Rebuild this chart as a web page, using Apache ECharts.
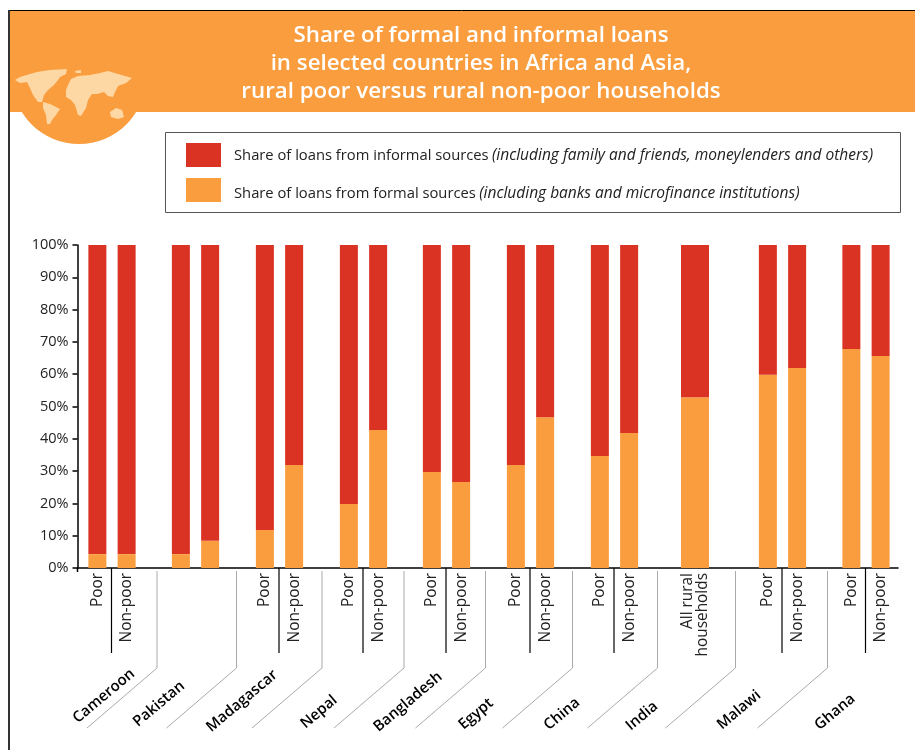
<!DOCTYPE html>
<html>
<head>
<meta charset="utf-8">
<style>
  html, body { margin: 0; padding: 0; background: #fff; }
  #chart { width: 915px; height: 750px; }
</style>
</head>
<body>
<div id="chart"></div>
<script src="https://cdn.jsdelivr.net/npm/echarts@6/dist/echarts.min.js"></script>
<script>
// data
const titleLines = [
  'Share of formal and informal loans',
  'in selected countries in Africa and Asia,',
  'rural poor versus rural non-poor households'
];
const informalName = 'Share of loans from informal sources';
const informalNote = '(including family and friends, moneylenders and others)';
const formalName = 'Share of loans from formal sources';
const formalNote = '(including banks and microfinance institutions)';

const countries = ['Cameroon', 'Pakistan', 'Madagascar', 'Nepal', 'Bangladesh', 'Egypt', 'China', 'India', 'Malawi', 'Ghana'];
const pairLabels = ['Poor', 'Non-poor'];
const indiaLabels = ['All rural\nhouseholds'];

const formalShare = [[4.3, 4.3], [4.3, 8.4], [11.8, 31.9], [19.8, 42.7], [29.7, 26.6], [31.9, 46.7], [34.7, 41.8], [52.9], [59.8, 61.9], [67.8, 65.6]];
const informalShare = [[95.7, 95.7], [95.7, 91.6], [88.2, 68.1], [80.2, 57.3], [70.3, 73.4], [68.1, 53.3], [65.3, 58.2], [47.1], [40.2, 38.1], [32.2, 34.4]];

// layout
const ORANGE = '#fa9d3e';
const RED = '#da3324';
const FONT = '"Open Sans"';
const plotTop = 245;
const plotHeight = 323;
const axisLeft = 77.5;
const axisRight = 898;
const pairWidth = 58.5;
const groupCentres = [112, 195.5, 279.5, 363.5, 446.5, 530.5, 614.5, 695, 782.5, 866];
const dividerX = [157, 236.5, 322, 404, 485.5, 572.5, 657.5, 735.5, 827.5];
const countryLabelPos = [[104, 696], [159, 704], [242, 701], [319, 712], [408, 702], [476, 714], [562, 714], [642, 716], [739, 710], [835, 712]];

// 底部 x 轴和 y 轴放在第 0 个 grid，每个国家一个小 grid
const grids = [{ left: axisLeft, top: plotTop, width: axisRight - axisLeft, height: plotHeight }];
const xAxes = [{
  gridIndex: 0, type: 'value', min: 0, max: 1,
  axisLine: { show: true, onZero: false, lineStyle: { color: '#000', width: 1.5 } },
  axisTick: { show: false }, axisLabel: { show: false }, splitLine: { show: false }
}];
const yAxes = [{
  gridIndex: 0, type: 'value', min: 0, max: 100, interval: 10,
  axisLine: { show: true, lineStyle: { color: '#000', width: 1.5 } },
  axisTick: { show: true, length: 5, lineStyle: { color: '#000', width: 1.5 } },
  axisLabel: { margin: 9, color: '#222', fontFamily: FONT, fontSize: 14.5, formatter: '{value}%' },
  splitLine: { show: false }
}];
const series = [];

countries.forEach((name, i) => {
  const idx = i + 1;
  const isIndia = name === 'India';
  grids.push({ left: groupCentres[i] - pairWidth / 2, top: plotTop, width: pairWidth, height: plotHeight });
  xAxes.push({
    gridIndex: idx, type: 'category', data: isIndia ? indiaLabels : pairLabels,
    axisLine: { show: false }, axisTick: { show: false }, splitLine: { show: false },
    axisLabel: {
      show: name !== 'Pakistan', interval: 0, rotate: 90, margin: 5, hideOverlap: false,
      color: '#222', fontFamily: FONT, fontSize: 15.4, lineHeight: 15
    }
  });
  yAxes.push({ gridIndex: idx, type: 'value', min: 0, max: 100, show: false });
  const barWidth = isIndia ? 28 : 18;
  series.push({
    name: formalName, type: 'bar', stack: 'share' + i, xAxisIndex: idx, yAxisIndex: idx,
    data: formalShare[i], barWidth, itemStyle: { color: ORANGE }
  });
  series.push({
    name: informalName, type: 'bar', stack: 'share' + i, xAxisIndex: idx, yAxisIndex: idx,
    data: informalShare[i], barWidth, itemStyle: { color: RED }
  });
});

// 装饰：页头、世界地图、图例框、分隔线、国家名
const mapShapes = [
  // 北美
  [[15, 80], [20, 77], [30, 74], [37, 72], [50, 70], [67, 69], [66, 74], [60, 77], [58, 80], [54, 85], [48, 90], [44, 95], [42, 102], [38, 102], [33, 95], [30, 88], [27, 82], [20, 83]],
  // 南美
  [[43, 102], [50, 104], [60, 109], [56, 115], [52, 120], [50, 124], [47, 124], [46, 115], [43, 108]],
  // 欧亚和非洲
  [[68, 85], [71, 79], [78, 76], [90, 75], [100, 73], [108, 71], [118, 74], [132, 78], [126, 83], [118, 86], [115, 92], [113, 97], [108, 96], [104, 92], [97, 94], [92, 94], [88, 100], [86, 108], [81, 116], [78, 115], [75, 105], [71, 100], [66, 97], [66, 90]],
  // 澳洲
  [[110, 112], [116, 108], [122, 110], [124, 117], [118, 119], [111, 117]],
  // 格陵兰
  [[75, 71], [81, 70], [81, 73], [76, 73]]
];
const graphics = [
  { type: 'circle', z: 1, shape: { cx: 79, cy: 77, r: 67 }, style: { fill: ORANGE } },
  { type: 'rect', z: 1, shape: { x: 9, y: 11, width: 906, height: 101 }, style: { fill: ORANGE } },
  { type: 'line', z: 2, shape: { x1: 8, y1: 10.5, x2: 915, y2: 10.5 }, style: { stroke: '#000', lineWidth: 1 } },
  { type: 'line', z: 2, shape: { x1: 9, y1: 10, x2: 9, y2: 750 }, style: { stroke: '#333', lineWidth: 2 } },
  { type: 'rect', z: 1, shape: { x: 165.5, y: 132.5, width: 735, height: 80 }, style: { fill: '#fff', stroke: '#555', lineWidth: 1 } },
  { type: 'line', z: 3, shape: { x1: axisLeft, y1: 568, x2: axisLeft, y2: 572 }, style: { stroke: '#000', lineWidth: 1.5 } }
];
mapShapes.forEach(points => {
  graphics.push({ type: 'polygon', z: 2, shape: { points }, style: { fill: '#fdd8a5' } });
});
countries.forEach((name, i) => {
  if (name !== 'Pakistan' && name !== 'India') {
    const x = groupCentres[i] - 0.5;
    graphics.push({ type: 'line', z: 3, shape: { x1: x, y1: 568, x2: x, y2: 653 }, style: { stroke: '#000', lineWidth: 1.2 } });
  }
  graphics.push({
    type: 'text', z: 3, x: countryLabelPos[i][0], y: countryLabelPos[i][1], rotation: 40 * Math.PI / 180,
    style: { text: name, fill: '#000', font: `600 15px ${FONT}`, align: 'center', verticalAlign: 'middle' }
  });
});
dividerX.forEach(x => {
  graphics.push({
    type: 'polyline', z: 3,
    shape: { points: [[x, 571], [x, 668], [x - 70, 728]] },
    style: { stroke: '#aaa', lineWidth: 1, fill: null }
  });
});

const chart = echarts.init(document.getElementById('chart'), null, { renderer: 'canvas' });
chart.setOption({
  animation: false,
  backgroundColor: '#fff',
  title: {
    text: titleLines.join('\n'), left: 476, top: 17, textAlign: 'center',
    textStyle: { color: '#fff', fontFamily: FONT, fontSize: 22.3, fontWeight: 600, lineHeight: 28 }
  },
  legend: {
    data: [informalName, formalName],
    orient: 'vertical', left: 186, top: 143, padding: 0, itemWidth: 35, itemHeight: 24, itemGap: 11,
    icon: 'rect', selectedMode: false,
    formatter: n => n === informalName
      ? `{a|${informalName}} {b|${informalNote}}`
      : `{c|${formalName}} {d|${formalNote}}`,
    textStyle: {
      rich: {
        a: { fontFamily: FONT, fontSize: 14.75, color: '#222', padding: [2, 0, 0, 8] },
        b: { fontFamily: FONT, fontSize: 15.5, fontStyle: 'italic', color: '#222', padding: [2, 0, 0, 0] },
        c: { fontFamily: FONT, fontSize: 14.75, color: '#222', padding: [7, 0, 0, 8] },
        d: { fontFamily: FONT, fontSize: 15.5, fontStyle: 'italic', color: '#222', padding: [7, 0, 0, 0] }
      }
    }
  },
  grid: grids,
  xAxis: xAxes,
  yAxis: yAxes,
  series,
  graphic: { elements: graphics }
});
</script>
</body>
</html>
